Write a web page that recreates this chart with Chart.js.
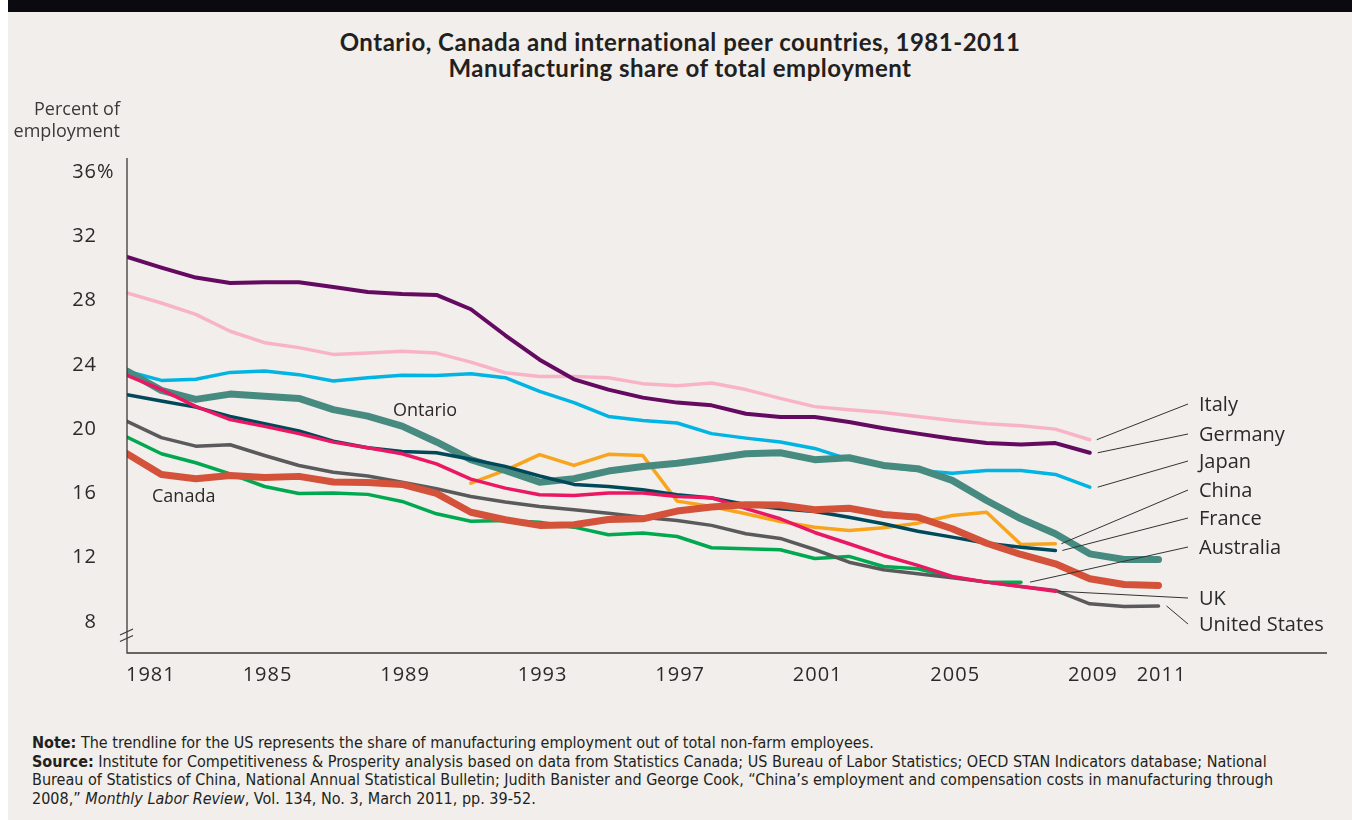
<!DOCTYPE html>
<html>
<head>
<meta charset="utf-8">
<script src="https://cdn.jsdelivr.net/npm/chart.js@4.4.0/dist/chart.umd.min.js"></script>
<style>
  html, body { margin: 0; padding: 0; background: #fff; }
  #panel { position: absolute; left: 8px; top: 0; width: 1344px; height: 820px; background: #f1eeeb; overflow: hidden; }
  #topbar { position: absolute; left: 0; top: 0; width: 100%; height: 12px; background: #0a0a10; }
  #title { position: absolute; left: 0; top: 29px; width: 1344px; text-align: center; font: bold 24px Lato, sans-serif; letter-spacing: 0.5px; line-height: 26px; color: #231f20; }
  #note { position: absolute; left: 24px; top: 734px; font: 16px "Liberation Sans Narrow", "DejaVu Sans Condensed", sans-serif; line-height: 18.7px; color: #231f20; white-space: nowrap; }
  #note b { font-weight: bold; }
  #chart { position: absolute; left: 0; top: 0; }
</style>
</head>
<body>
<div id="panel">
  <div id="topbar"></div>
  <div id="title">Ontario, Canada and international peer countries, 1981-2011<br>Manufacturing share of total employment</div>
  <div id="note">
    <b>Note:</b> The trendline for the US represents the share of manufacturing employment out of total non-farm employees.<br>
    <b>Source:</b> Institute for Competitiveness &amp; Prosperity analysis based on data from Statistics Canada; US Bureau of Labor Statistics; OECD STAN Indicators database; National<br>
    Bureau of Statistics of China, National Annual Statistical Bulletin; Judith Banister and George Cook, “China’s employment and compensation costs in manufacturing through<br>
    2008,” <i>Monthly Labor Review</i>, Vol. 134, No. 3, March 2011, pp. 39-52.
  </div>
</div>
<canvas id="chart" width="1352" height="820"></canvas>
<script>
const years = [1981, 1982, 1983, 1984, 1985, 1986, 1987, 1988, 1989, 1990, 1991, 1992, 1993, 1994, 1995, 1996,
  1997, 1998, 1999, 2000, 2001, 2002, 2003, 2004, 2005, 2006, 2007, 2008, 2009, 2010, 2011];

const germany = [30.84, 30.18, 29.56, 29.22, 29.27, 29.27, 28.97, 28.66, 28.54, 28.48, 27.59, 25.97, 24.45, 23.23, 22.59, 22.09,
  21.78, 21.61, 21.09, 20.89, 20.88, 20.57, 20.19, 19.85, 19.53, 19.26, 19.18, 19.26, 18.66, null, null];
const italy = [28.6, 27.98, 27.27, 26.22, 25.51, 25.2, 24.78, 24.86, 24.97, 24.86, 24.3, 23.64, 23.41, 23.41, 23.33, 22.96,
  22.83, 23.0, 22.59, 22.04, 21.53, 21.34, 21.17, 20.92, 20.67, 20.47, 20.34, 20.13, 19.47, null, null];
const japan = [23.74, 23.16, 23.23, 23.66, 23.74, 23.52, 23.12, 23.33, 23.48, 23.46, 23.57, 23.33, 22.48, 21.78, 20.92, 20.67,
  20.51, 19.85, 19.57, 19.33, 18.93, 18.25, 17.81, 17.56, 17.39, 17.56, 17.56, 17.31, 16.52, null, null];
const ontario = [23.74, 22.54, 21.98, 22.31, 22.17, 22.04, 21.34, 20.94, 20.32, 19.33, 18.23, 17.56, 16.83, 17.04, 17.52, 17.81,
  18.01, 18.29, 18.6, 18.66, 18.23, 18.35, 17.87, 17.67, 16.94, 15.69, 14.55, 13.62, 12.37, 12.02, 12.02];
const france = [22.27, 21.88, 21.5, 20.92, 20.47, 20.01, 19.38, 18.97, 18.74, 18.66, 18.26, 17.81, 17.21, 16.69, 16.56, 16.36,
  16.05, 15.84, 15.44, 15.18, 15.01, 14.65, 14.24, 13.78, 13.41, 13.03, 12.78, 12.58, null, null, null];
const uk = [23.48, 22.59, 21.55, 20.72, 20.3, 19.85, 19.32, 18.97, 18.6, 17.97, 17.02, 16.46, 16.05, 16.0, 16.15, 16.15,
  15.94, 15.86, 15.18, 14.55, 13.7, 13.0, 12.27, 11.65, 10.96, 10.61, 10.34, 10.04, null, null, null];
const us = [20.61, 19.6, 19.07, 19.16, 18.49, 17.87, 17.45, 17.21, 16.83, 16.42, 15.94, 15.59, 15.32, 15.11, 14.9, 14.65,
  14.45, 14.14, 13.62, 13.33, 12.64, 11.85, 11.38, 11.13, 10.88, 10.61, 10.34, 10.09, 9.26, 9.09, 9.13];
const australia = [19.63, 18.6, 18.04, 17.35, 16.56, 16.13, 16.16, 16.07, 15.63, 14.86, 14.4, 14.45, 14.34, 14.03, 13.56, 13.66,
  13.45, 12.75, 12.68, 12.62, 12.08, 12.21, 11.58, 11.44, 10.92, 10.61, 10.61, null, null, null, null];
const canada = [18.6, 17.31, 17.04, 17.25, 17.12, 17.19, 16.84, 16.81, 16.69, 16.13, 14.96, 14.49, 14.14, 14.18, 14.51, 14.55,
  15.03, 15.28, 15.42, 15.41, 15.11, 15.21, 14.82, 14.65, 13.93, 13.03, 12.33, 11.75, 10.82, 10.46, 10.4];
const china = [null, null, null, null, null, null, null, null, null, null, 16.77, 17.56, 18.54, 17.87, 18.56, 18.49,
  15.65, 15.32, 14.86, 14.38, 14.03, 13.82, 13.99, 14.28, 14.76, 14.96, 12.95, 13.0, null, null, null];

const yTicks = [8, 12, 16, 20, 24, 28, 32, 36];
const xTicks = [1981, 1985, 1989, 1993, 1997, 2001, 2005, 2009, 2011];

const textColor = '#2b2a2a';
const tickFont = '20px "Open Sans", sans-serif';

function points(values) {
  return years.map((yr, i) => ({ x: yr, y: values[i] })).filter((p) => p.y !== null);
}

function line(label, values, color, width, order) {
  return {
    label,
    data: points(values),
    borderColor: color,
    borderWidth: width,
    borderCapStyle: 'round',
    borderJoinStyle: 'round',
    pointRadius: 0,
    tension: 0,
    fill: false,
    order
  };
}

// name labels on the right, joined to the end of each line by a thin leader
const endLabels = [
  { text: 'Italy', values: italy, year: 2009, gap: 7, labelY: 405 },
  { text: 'Germany', values: germany, year: 2009, gap: 8, labelY: 435 },
  { text: 'Japan', values: japan, year: 2009, gap: 8, labelY: 462 },
  { text: 'China', values: china, year: 2008, gap: 6, labelY: 491 },
  { text: 'France', values: france, year: 2008, gap: 7, labelY: 519 },
  { text: 'Australia', values: australia, year: 2007, gap: 9, labelY: 548 },
  { text: 'UK', values: uk, year: 2008, gap: 3, labelY: 599 },
  { text: 'United States', values: us, year: 2011, gap: 8, labelY: 625 }
];

const overlay = {
  id: 'overlay',
  afterDatasetsDraw(chart) {
    const { ctx, chartArea: a, scales: { x, y } } = chart;
    ctx.save();

    // axes with a break mark on the y axis
    ctx.strokeStyle = '#3a3a3a';
    ctx.lineWidth = 1.3;
    ctx.beginPath();
    ctx.moveTo(a.left, a.top);
    ctx.lineTo(a.left, a.bottom);
    ctx.lineTo(a.right, a.bottom);
    ctx.stroke();
    ctx.lineWidth = 1.2;
    ctx.beginPath();
    ctx.moveTo(a.left - 7, a.bottom - 18);
    ctx.lineTo(a.left + 6, a.bottom - 24);
    ctx.moveTo(a.left - 7, a.bottom - 11.5);
    ctx.lineTo(a.left + 6, a.bottom - 17.5);
    ctx.stroke();

    ctx.fillStyle = textColor;
    ctx.font = tickFont;
    ctx.letterSpacing = '1px';
    ctx.textBaseline = 'middle';

    yTicks.forEach((v) => {
      const py = y.getPixelForValue(v) - 2;
      ctx.textAlign = 'right';
      ctx.fillText(String(v), a.left - 30, py);
      if (v === yTicks[yTicks.length - 1]) {
        ctx.textAlign = 'left';
        ctx.fillText('%', a.left - 30, py);
      }
    });

    xTicks.forEach((v, i) => {
      const px = x.getPixelForValue(v);
      ctx.textAlign = i === 0 ? 'left' : 'center';
      ctx.fillText(String(v), i === 0 ? px - 1 : px + 3, a.bottom + 22);
    });

    ctx.letterSpacing = '0px';
    ctx.font = '18px "Open Sans", sans-serif';
    ctx.textAlign = 'right';
    ctx.fillStyle = '#3a3939';
    ctx.fillText('Percent of', 120, 110);
    ctx.fillText('employment', 120, 132);

    ctx.textAlign = 'left';
    ctx.fillStyle = textColor;
    ctx.font = '18px "Open Sans", sans-serif';
    ctx.fillText('Ontario', 393, 411);
    ctx.fillText('Canada', 152, 497);

    ctx.font = '20px "Open Sans", sans-serif';
    endLabels.forEach((l) => {
      const i = years.indexOf(l.year);
      const sx = x.getPixelForValue(l.year) + l.gap;
      const sy = y.getPixelForValue(l.values[i]);
      ctx.strokeStyle = '#333';
      ctx.lineWidth = 1;
      ctx.beginPath();
      ctx.moveTo(sx, sy);
      ctx.lineTo(1188, l.labelY - 1);
      ctx.stroke();
      ctx.fillText(l.text, 1199, l.labelY);
    });

    ctx.restore();
  }
};

new Chart(document.getElementById('chart'), {
  type: 'line',
  data: {
    datasets: [
      line('Canada', canada, '#d4513a', 7, 0),
      line('UK', uk, '#ea1862', 3.5, 1),
      line('France', france, '#00495a', 3.5, 2),
      line('Ontario', ontario, '#478a80', 7, 3),
      line('China', china, '#f8a51d', 3.5, 4),
      line('United States', us, '#5a5a5c', 3.5, 5),
      line('Australia', australia, '#00a850', 3.5, 6),
      line('Japan', japan, '#00b5e3', 3.5, 7),
      line('Germany', germany, '#640a60', 4, 8),
      line('Italy', italy, '#f8b4c6', 3.5, 9)
    ]
  },
  options: {
    responsive: false,
    animation: false,
    layout: { padding: { left: 127, top: 158, right: 25, bottom: 167 } },
    plugins: { legend: { display: false }, tooltip: { enabled: false } },
    scales: {
      x: { type: 'linear', min: 1981, max: 2015.9, display: false },
      y: { type: 'linear', min: 6.2, max: 37, display: false }
    }
  },
  plugins: [overlay]
});
</script>
</body>
</html>
